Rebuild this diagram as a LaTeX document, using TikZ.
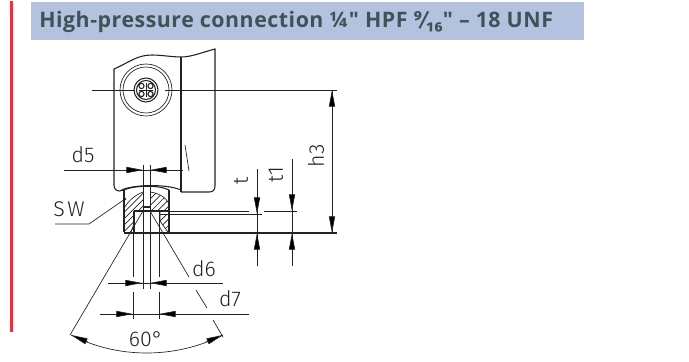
\documentclass[tikz,border=0pt]{standalone}
\usepackage{fontspec}
\setmainfont{Open Sans}
\newfontfamily\titlefont[LetterSpace=2.5]{Open Sans}
\newfontfamily\fracfont{Fira Sans}
\newfontfamily\dimfont{Fira Sans Light}
\usetikzlibrary{arrows.meta}
\definecolor{headbg}{HTML}{B4C2DF}
\definecolor{headtx}{HTML}{3F5257}
\definecolor{redbar}{HTML}{EE2E3A}
\definecolor{ink}{HTML}{222222}
\tikzset{
 thin line/.style={draw=ink,line width=0.5pt},
 thick line/.style={draw=ink,line width=0.8pt},
 dim arrow/.style={thin line,-{Triangle[length=12.5pt,width=4.6pt,fill=black]}},
 dim label/.style={font=\dimfont\fontsize{16}{16}\selectfont,text=ink,inner sep=0pt},
 hatch line/.style={draw=ink,line width=0.5pt}
}
\begin{document}
\begin{tikzpicture}[x=0.75pt,y=-0.75pt]
\useasboundingbox (0,0) rectangle (689,361);
\fill[white] (0,0) rectangle (689,361);
% side bar and header
\fill[redbar] (10,1) rectangle (13,332);
\fill[headbg] (31,2) rectangle (584,40);
\node[anchor=west,inner sep=0pt,text=headtx,font=\titlefont\fontsize{16}{16}\selectfont\bfseries] (title) at (39,22) {High-pressure connection ¼" HPF {\fracfont ⁹⁄₁₆}" – 18 UNF};
% body
\draw[thick line] (114,185) .. controls (114,189) and (116,191) .. (120,191)
  .. controls (128,185) and (165,183) .. (181,190);
\draw[thick line] (114,185) -- (114,69) .. controls (130,62) and (137,55) .. (152,55)
  .. controls (162,55) and (172,57) .. (181,57) .. controls (192,57) and (203,52) .. (215,49)
  -- (215,186) .. controls (215,190) and (213,192) .. (209,192) -- (181,192);
\draw[thick line] (181,57) -- (181,192);
% connector circles
\draw[thin line] (146,90) circle (26);
\draw[thin line] (146,90) circle (23);
\draw[thick line] (146,90) circle (12);
\draw[thick line] (146,90) circle (9.5);
\foreach \a/\b in {141.5/86,150.5/86,141.5/94,150.5/94}
  \draw[thick line] (\a,\b) circle (2.6);
\draw[thin line] (139,90) -- (153,90) (146,83) -- (146,97);
% centre line
\draw[thin line] (92,90) -- (135,90) (165,90) -- (337,90);
% d5
\node[dim label] (d5) at (83,155) {d5};
\draw[thin line] (64,170) -- (183,170);
\draw[dim arrow] (126,170) -- (143,170);
\draw[dim arrow] (167,170) -- (150,170);
\draw[thin line] (185,145) -- (189,171);
% nut
\begin{scope}
\clip (143,192) .. controls (133,196) and (128,202) .. (124,208) -- (124,232) -- (131,232) -- (134,224) -- (134,211) -- (143,211) -- cycle;
\foreach \i in {0,...,18} \draw[hatch line] (90+6.4*\i,240) -- (90+6.4*\i+60,180);
\end{scope}
\begin{scope}
\clip (150,192) .. controls (158,193) and (166,197) .. (169,204) -- (169,211) -- (150,211) -- cycle;
\foreach \i in {0,...,18} \draw[hatch line] (90+6.4*\i,240) -- (90+6.4*\i+60,180);
\end{scope}
\begin{scope}
\clip (160,214) -- (169,214) -- (169,232) -- (168,232) -- (160,221) -- cycle;
\foreach \i in {0,...,18} \draw[hatch line] (90+6.4*\i,240) -- (90+6.4*\i+60,180);
\end{scope}
\draw[thick line] (124,190) -- (124,232) (169,190) -- (169,233);
\draw[thick line] (120,190.5) -- (124,190.5);
\draw[thick line] (124,190) .. controls (135,185) and (160,185) .. (169,190);
\draw[thick line] (124,233) -- (337,233);
\draw[thick line] (134,211) -- (134,232) (143,207) -- (150,207);
\draw[thick line] (134,211) -- (169,211);
\draw[thin line] (143,192) .. controls (133,196) and (128,202) .. (124,208);
\draw[thin line] (150,192) .. controls (158,193) and (166,197) .. (169,204);
\draw[thin line] (160,211) -- (160,221) -- (168,232);
\draw[thin line] (134,224) -- (131,232);
% vertical lines
\draw[thin line] (143,165) -- (143,289) (150,165) -- (150,289);
\draw[thin line] (133,211) -- (133,277) (133,292) -- (133,319);
\draw[thin line] (159,211) -- (159,277) (159,292) -- (159,319);
% SW
\node[dim label] (sw) at (69,209) {S\kern2pt W};
\coordinate (swa) at (55,224);
\coordinate (swb) at (89,224);
\coordinate (swc) at (125,199);
\draw[thin line] (swa) -- (swb) -- (swc);
\fill[ink] (swc) circle (1.4);
% t, t1, h3
\draw[thin line] (160,211) -- (249,211) (264,211) -- (297,211);
\draw[thin line] (160,214) -- (262,214);
\draw[thin line] (257,169) -- (257,266) (292,159) -- (292,266);
\draw[dim arrow] (257,197) -- (257,214);
\draw[dim arrow] (257,250) -- (257,233);
\draw[dim arrow] (292,194) -- (292,211);
\draw[dim arrow] (292,250) -- (292,233);
\draw[thin line] (332,90) -- (332,233);
\draw[dim arrow] (332,107) -- (332,90);
\draw[dim arrow] (332,216) -- (332,233);
\node[dim label,rotate=90] (tl) at (241,181) {t};
\node[dim label,rotate=90] (tla) at (276,175) {t1};
\node[dim label,rotate=90] (hl) at (316,156) {h3};
% cone lines
\draw[thin line] (143,211) -- (70,335);
\draw[thin line] (150,211) -- (189,277) (196,290) -- (207,308) (213,320) -- (223,337);
% d6 d7
\node[dim label] (d6) at (204,269) {d6};
\node[dim label] (d7) at (230,299) {d7};
\draw[thin line] (108,283) -- (223,283);
\draw[dim arrow] (125,283) -- (142,283);
\draw[dim arrow] (168,283) -- (150,283);
\draw[thin line] (100,314) -- (249,314);
\draw[dim arrow] (116,314) -- (133,314);
\draw[dim arrow] (177,314) -- (159,314);
% 60 degrees
\node[dim label] (ang) at (146,339) {60°};
\coordinate (al) at (71,335);
\coordinate (ar) at (223,335);
\draw[thin line] (al) .. controls (118,359) and (175,359) .. (ar);
\draw[dim arrow] (88,342) -- (al);
\draw[dim arrow] (206,342) -- (ar);
\end{tikzpicture}
\end{document}
